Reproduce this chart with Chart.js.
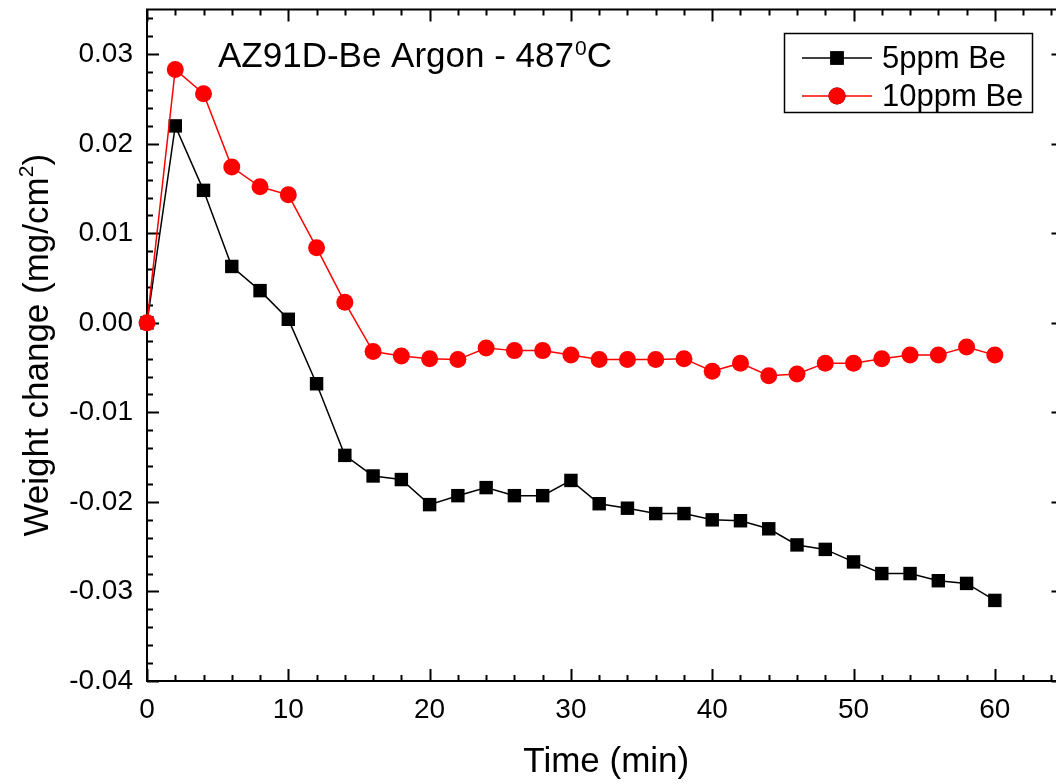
<!DOCTYPE html>
<html>
<head>
<meta charset="utf-8">
<script src="https://cdn.jsdelivr.net/npm/chart.js@4"></script>
<style>
  html, body { margin: 0; padding: 0; background: #fff; overflow: hidden; }
  #wrap { width: 1075px; height: 784px; }
</style>
</head>
<body>
<div id="wrap"><canvas id="weightChart"></canvas></div>
<script>
// time in minutes, weight change in mg/cm2
const times = [0, 2, 4, 6, 8, 10, 12, 14, 16, 18, 20, 22, 24, 26, 28, 30,
  32, 34, 36, 38, 40, 42, 44, 46, 48, 50, 52, 54, 56, 58, 60];

const be5 = [0, 0.0220, 0.0148, 0.0063, 0.0036, 0.0004, -0.0068, -0.0148,
  -0.0171, -0.0175, -0.0203, -0.0193, -0.0184, -0.0193, -0.0193, -0.0176,
  -0.0202, -0.0207, -0.0213, -0.0213, -0.0220, -0.0221, -0.0230, -0.0248,
  -0.0253, -0.0267, -0.0280, -0.0280, -0.0288, -0.0291, -0.0310];

const be10 = [0, 0.0283, 0.0256, 0.0174, 0.0152, 0.0143, 0.0084, 0.0023,
  -0.0032, -0.0037, -0.0040, -0.0041, -0.0028, -0.0031, -0.0031, -0.0036,
  -0.0041, -0.0041, -0.0041, -0.0040, -0.0054, -0.0045, -0.0059, -0.0057,
  -0.0045, -0.0045, -0.0040, -0.0036, -0.0036, -0.0027, -0.0036];

const seriesNames = ["5ppm Be", "10ppm Be"];
const xTicks = [0, 10, 20, 30, 40, 50, 60];
const yTicks = [-0.04, -0.03, -0.02, -0.01, 0, 0.01, 0.02, 0.03];

const FONT = "'Liberation Sans', Arial, sans-serif";

// box round the plot, ticks pointing inward
const frameTicks = {
  id: "frameTicks",
  beforeDatasetsDraw(chart) {
    const ctx = chart.ctx;
    const a = chart.chartArea;
    const xs = chart.scales.x;
    const ys = chart.scales.y;
    ctx.save();
    ctx.strokeStyle = "#000";
    ctx.lineWidth = 2;
    ctx.strokeRect(a.left, a.top, a.right - a.left, a.bottom - a.top);
    ctx.beginPath();
    for (let v = 0; v <= xs.max; v += 2) {
      const px = Math.round(xs.getPixelForValue(v)) + 0.5;
      const len = v % 10 === 0 ? 12 : 6;
      ctx.moveTo(px, a.bottom); ctx.lineTo(px, a.bottom - len);
      ctx.moveTo(px, a.top); ctx.lineTo(px, a.top + len);
    }
    for (let i = -20; i <= 17; i++) {
      const py = Math.round(ys.getPixelForValue(i / 500)) + 0.5;
      const major = i % 5 === 0;
      ctx.moveTo(a.left, py); ctx.lineTo(a.left + (major ? 12 : 6), py);
      if (major) { ctx.moveTo(a.right, py); ctx.lineTo(a.right - 14, py); }
    }
    ctx.stroke();
    ctx.restore();
  }
};

// heading, y title with superscript, legend box
const extras = {
  id: "extras",
  afterDraw(chart) {
    const ctx = chart.ctx;
    ctx.save();
    ctx.fillStyle = "#000";
    ctx.textBaseline = "alphabetic";
    ctx.textAlign = "left";

    // heading
    ctx.font = "35px " + FONT;
    let x = 218;
    const main = "AZ91D-Be Argon - 487";
    ctx.fillText(main, x, 67);
    x += ctx.measureText(main).width;
    ctx.font = "21px " + FONT;
    ctx.fillText("0", x + 1, 55);
    x += ctx.measureText("0").width + 1;
    ctx.font = "35px " + FONT;
    ctx.fillText("C", x, 67);

    // y axis title
    const a = chart.chartArea;
    ctx.translate(48, (a.top + a.bottom) / 2);
    ctx.rotate(-Math.PI / 2);
    ctx.font = "35px " + FONT;
    const t1 = "Weight change (mg/cm";
    const w1 = ctx.measureText(t1).width;
    ctx.font = "21px " + FONT;
    const w2 = ctx.measureText("2").width;
    ctx.font = "35px " + FONT;
    const w3 = ctx.measureText(")").width;
    let sx = -(w1 + w2 + w3) / 2;
    ctx.fillText(t1, sx, 0);
    sx += w1;
    ctx.font = "21px " + FONT;
    ctx.fillText("2", sx, -15);
    sx += w2;
    ctx.font = "35px " + FONT;
    ctx.fillText(")", sx, 0);
    ctx.setTransform(1, 0, 0, 1, 0, 0);

    // legend
    ctx.lineWidth = 1.5;
    ctx.strokeStyle = "#000";
    ctx.strokeRect(784.5, 33.5, 248, 79);
    const rows = [58, 96];
    chart.data.datasets.forEach((ds, i) => {
      const y = rows[i];
      ctx.strokeStyle = ds.borderColor;
      ctx.lineWidth = ds.borderWidth;
      ctx.beginPath();
      ctx.moveTo(802, y); ctx.lineTo(872, y);
      ctx.stroke();
      Chart.helpers.drawPoint(ctx, {
        pointStyle: ds.pointStyle, radius: ds.pointRadius, borderWidth: 0
      }, 837, y);
      ctx.fillStyle = ds.backgroundColor;
      ctx.fill();
      ctx.fillStyle = "#000";
      ctx.font = "31px " + FONT;
      ctx.textBaseline = "middle";
      ctx.fillText(ds.label, 882, y + 1);
    });
    ctx.restore();
  }
};

new Chart(document.getElementById("weightChart"), {
  type: "line",
  data: {
    datasets: [
      {
        label: seriesNames[0],
        data: times.map((t, i) => ({ x: t, y: be5[i] })),
        borderColor: "#000000",
        backgroundColor: "#000000",
        borderWidth: 1.5,
        pointStyle: "rect",
        pointRadius: 9.5,
        pointBorderWidth: 0,
        pointHoverRadius: 9.5,
        clip: false,
        order: 1
      },
      {
        label: seriesNames[1],
        data: times.map((t, i) => ({ x: t, y: be10[i] })),
        borderColor: "#ff0000",
        backgroundColor: "#ff0000",
        borderWidth: 1.5,
        pointStyle: "circle",
        pointRadius: 8.5,
        pointBorderWidth: 0,
        pointHoverRadius: 8.5,
        clip: false,
        order: 0
      }
    ]
  },
  options: {
    responsive: true,
    maintainAspectRatio: false,
    animation: false,
    layout: { padding: { top: 9, right: 5, left: 0, bottom: 0 } },
    plugins: {
      legend: { display: false },
      tooltip: { enabled: false }
    },
    scales: {
      x: {
        type: "linear",
        min: 0,
        max: 65,
        afterBuildTicks: s => { s.ticks = xTicks.map(v => ({ value: v })); },
        afterFit: s => { s.height = 103; s.paddingLeft = 0; s.paddingRight = 0; },
        grid: { display: false, drawTicks: false },
        border: { display: false },
        ticks: {
          color: "#000",
          font: { family: FONT, size: 28 },
          padding: 12,
          maxRotation: 0,
          autoSkip: false
        },
        title: {
          display: true,
          text: "Time (min)",
          color: "#000",
          font: { family: FONT, size: 35 },
          padding: { top: 0, bottom: 1 }
        }
      },
      y: {
        min: -0.04,
        max: 0.035,
        afterBuildTicks: s => { s.ticks = yTicks.map(v => ({ value: v })); },
        afterFit: s => { s.width = 147; s.paddingTop = 0; s.paddingBottom = 0; },
        grid: { display: false, drawTicks: false },
        border: { display: false },
        ticks: {
          color: "#000",
          font: { family: FONT, size: 28 },
          padding: 14,
          callback: v => v.toFixed(2)
        }
      }
    }
  },
  plugins: [frameTicks, extras]
});
</script>
</body>
</html>
